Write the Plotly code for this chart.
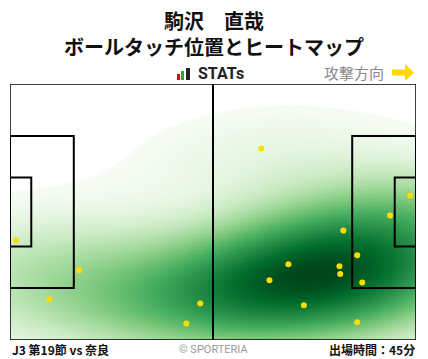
import numpy as np
import plotly.graph_objects as go

# Ball touch positions (metres, pitch 105 x 68, attacking to the right)
touch_x = [1.5, 17.9, 10.2, 49.2, 45.6, 65.0, 103.5, 98.3, 86.2, 89.8, 72.0, 85.2, 85.4, 67.1, 91.1, 76.0, 89.8]
touch_y = [26.5, 18.5, 10.8, 9.7, 4.4, 50.9, 38.4, 33.1, 29.1, 22.5, 20.1, 19.6, 17.5, 15.9, 15.3, 9.2, 4.7]

title_name = "駒沢　直哉"
title_sub = "ボールタッチ位置とヒートマップ"
footer_left = "J3 第19節 vs 奈良"
footer_right = "出場時間：45分"
credit = "© SPORTERIA"
direction_label = "攻撃方向"

L, W = 105.0, 68.0

# Gaussian KDE (full covariance), coloured by mass proportion like seaborn's kdeplot
pts = np.vstack([touch_x, touch_y])
n = pts.shape[1]
factor = 0.8
cov = np.cov(pts) * factor ** 2
cov[0, 0] *= 1.15
inv = np.linalg.inv(cov)
bw = np.sqrt(np.diag(cov))
ex, ey = 3 * bw
gx = np.linspace(min(touch_x) - ex, max(touch_x) + ex, 400)
gy = np.linspace(min(touch_y) - ey, max(touch_y) + ey, 300)
XX, YY = np.meshgrid(gx, gy)
dens = np.zeros_like(XX)
for i in range(n):
    dx = XX - pts[0, i]
    dy = YY - pts[1, i]
    q = inv[0, 0] * dx * dx + 2 * inv[0, 1] * dx * dy + inv[1, 1] * dy * dy
    dens += np.exp(-0.5 * q)
flat = dens.ravel()
order = np.argsort(flat)
cum = np.cumsum(flat[order])
cum /= cum[-1]
prop = np.empty_like(flat)
prop[order] = cum
prop = prop.reshape(dens.shape)
thresh = 0.06
z = np.where(prop < thresh, np.nan, (prop - thresh) / (1 - thresh))

greens = [
    [0.0, "#f7fcf5"], [0.125, "#e5f5e0"], [0.25, "#c7e9c0"], [0.375, "#a1d99b"],
    [0.5, "#74c476"], [0.625, "#41ab5d"], [0.75, "#238b45"], [0.875, "#006d2c"], [1.0, "#00441b"],
]

fig = go.Figure()
fig.add_trace(go.Heatmap(x=gx, y=gy, z=z, colorscale=greens, zmin=0.0, zmax=1.0,
                         showscale=False, zsmooth="best", hoverinfo="skip"))
fig.add_trace(go.Scatter(x=touch_x, y=touch_y, mode="markers",
                         marker=dict(color="#ffdd00", size=6, line=dict(width=0)),
                         hoverinfo="skip", showlegend=False))

line = dict(color="black", width=2)
fig.add_shape(type="rect", x0=0, y0=0, x1=L, y1=W, line=dict(color="black", width=1.5))
fig.add_shape(type="line", x0=L / 2, y0=0, x1=L / 2, y1=W, line=line)
pa_d, pa_w = 16.5, 40.32
ga_d, ga_w = 5.5, 18.32
for x0, x1 in [(0, pa_d), (L - pa_d, L)]:
    fig.add_shape(type="rect", x0=x0, x1=x1, y0=(W - pa_w) / 2, y1=(W + pa_w) / 2, line=line)
for x0, x1 in [(0, ga_d), (L - ga_d, L)]:
    fig.add_shape(type="rect", x0=x0, x1=x1, y0=(W - ga_w) / 2, y1=(W + ga_w) / 2, line=line)

def px(x):
    return (x - 10) / 406.0

def py(y):
    return (340 - y) / 256.0

for (xa, xb, ya), col in zip([(177, 180, 74), (181, 184, 71), (186, 190, 68)], ["#e60012", "#1aaa3c", "#222222"]):
    fig.add_shape(type="rect", xref="paper", yref="paper", x0=px(xa), x1=px(xb), y0=py(80), y1=py(ya),
                  fillcolor=col, line=dict(width=0))

ax0, ax1, ah = 392, 414, 405
path = (f"M {px(ax0)},{py(69.5)} L {px(ah)},{py(69.5)} L {px(ah)},{py(64)} L {px(ax1)},{py(72.5)} "
        f"L {px(ah)},{py(81)} L {px(ah)},{py(75.5)} L {px(ax0)},{py(75.5)} Z")
fig.add_shape(type="path", xref="paper", yref="paper", path=path, fillcolor="#ffd800", line=dict(width=0))

jp = "Noto Sans CJK JP"
ann = [
    dict(text=f"<b>{title_name}</b>", x=px(214), y=py(20), size=20, color="#111111", xanchor="center"),
    dict(text=f"<b>{title_sub}</b>", x=px(214), y=py(46), size=20, color="#111111", xanchor="center"),
    dict(text="<b>STATs</b>", x=px(196), y=py(73.5), size=16, color="#222222", xanchor="left", font="Roboto"),
    dict(text=direction_label, x=px(386), y=py(72.5), size=15, color="#888888", xanchor="right"),
    dict(text=f"<b>{footer_left}</b>", x=px(10), y=py(349), size=12, color="#111111", xanchor="left"),
    dict(text=credit, x=px(213), y=py(349), size=11, color="#999999", xanchor="center", font="Roboto"),
    dict(text=f"<b>{footer_right}</b>", x=px(417), y=py(349), size=12, color="#111111", xanchor="right"),
]
for a in ann:
    fig.add_annotation(text=a["text"], x=a["x"], y=a["y"], xref="paper", yref="paper",
                       xanchor=a["xanchor"], yanchor="middle", showarrow=False,
                       font=dict(family=a.get("font", jp), size=a["size"], color=a["color"]))

fig.update_xaxes(range=[0, L], visible=False, fixedrange=True)
fig.update_yaxes(range=[0, W], visible=False, fixedrange=True)
fig.update_layout(width=428, height=359, margin=dict(l=10, r=12, t=84, b=19),
                  plot_bgcolor="white", paper_bgcolor="white", showlegend=False)

fig.write_html("out.html", config={"displayModeBar": False},
               post_script="document.body.style.margin='0';document.body.style.overflow='hidden';")
